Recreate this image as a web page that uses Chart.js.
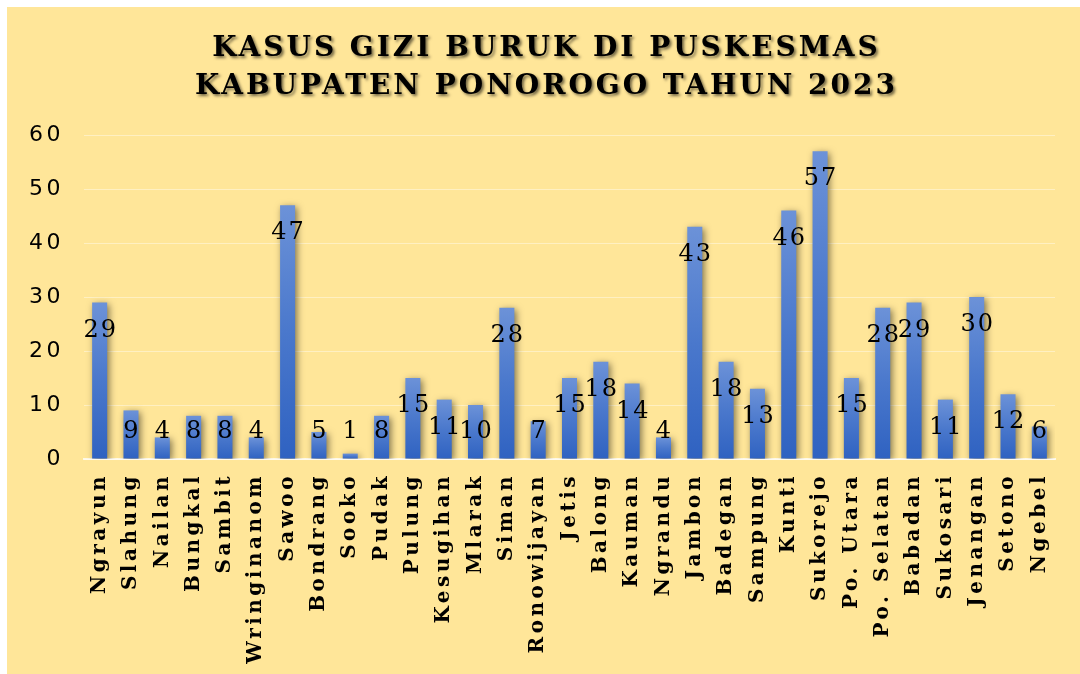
<!DOCTYPE html>
<html>
<head>
<meta charset="utf-8">
<script src="https://cdn.jsdelivr.net/npm/chart.js@4"></script>
<style>
  html, body { margin: 0; padding: 0; background: #ffffff; }
  #wrap {
    position: absolute;
    left: 7px;
    top: 7px;
    width: 1073px;
    height: 667px;
    background: #FFE699;
  }
</style>
</head>
<body>
<div id="wrap"><canvas id="giziChart"></canvas></div>
<script>
const titleLines = ['KASUS GIZI BURUK DI PUSKESMAS', 'KABUPATEN PONOROGO TAHUN 2023'];

const puskesmas = [
  'Ngrayun', 'Slahung', 'Nailan', 'Bungkal', 'Sambit', 'Wringinanom', 'Sawoo',
  'Bondrang', 'Sooko', 'Pudak', 'Pulung', 'Kesugihan', 'Mlarak', 'Siman',
  'Ronowijayan', 'Jetis', 'Balong', 'Kauman', 'Ngrandu', 'Jambon', 'Badegan',
  'Sampung', 'Kunti', 'Sukorejo', 'Po. Utara', 'Po. Selatan', 'Babadan',
  'Sukosari', 'Jenangan', 'Setono', 'Ngebel'
];

const kasus = [
  29, 9, 4, 8, 8, 4, 47,
  5, 1, 8, 15, 11, 10, 28,
  7, 15, 18, 14, 4, 43, 18,
  13, 46, 57, 15, 28, 29,
  11, 30, 12, 6
];

const yMin = 0;
const yMax = 60;
const yStep = 10;

// gradient per bar, light at the top, darker at the base
function barFill(context) {
  const chart = context.chart;
  if (!chart.chartArea) return '#4472C4';
  const y = chart.scales.y;
  const top = y.getPixelForValue(context.parsed.y);
  const bottom = y.getPixelForValue(0);
  const g = chart.ctx.createLinearGradient(0, top, 0, bottom);
  g.addColorStop(0, '#6c92d8');
  g.addColorStop(0.5, '#4a78cc');
  g.addColorStop(1, '#2f62c1');
  return g;
}

const textSpacing = {
  id: 'textSpacing',
  beforeDraw(chart) {
    chart.ctx.letterSpacing = '3.5px';
  }
};

const barShadow = {
  id: 'barShadow',
  beforeDatasetsDraw(chart) {
    const ctx = chart.ctx;
    ctx.save();
    ctx.shadowColor = 'rgba(0, 0, 0, 0.5)';
    ctx.shadowBlur = 7;
    ctx.shadowOffsetX = 2;
    ctx.shadowOffsetY = 2;
  },
  afterDatasetsDraw(chart) {
    chart.ctx.restore();
  }
};

const valueLabels = {
  id: 'valueLabels',
  afterDatasetsDraw(chart) {
    const ctx = chart.ctx;
    const meta = chart.getDatasetMeta(0);
    const floor = chart.chartArea.bottom - 27;
    ctx.save();
    ctx.letterSpacing = '2px';
    ctx.font = '24px "DejaVu Serif"';
    ctx.fillStyle = '#000000';
    ctx.textAlign = 'center';
    ctx.textBaseline = 'middle';
    meta.data.forEach((bar, i) => {
      const y = Math.min(bar.y + 28, floor);
      ctx.fillText(String(kasus[i]), bar.x + 1, y);
    });
    ctx.restore();
  }
};

const titleText = {
  id: 'titleText',
  afterDraw(chart) {
    const ctx = chart.ctx;
    ctx.save();
    ctx.letterSpacing = '3px';
    ctx.font = 'bold 28px "DejaVu Serif"';
    ctx.fillStyle = '#000000';
    ctx.textAlign = 'center';
    ctx.textBaseline = 'middle';
    ctx.shadowColor = 'rgba(0, 0, 0, 0.55)';
    ctx.shadowBlur = 3;
    ctx.shadowOffsetX = 2;
    ctx.shadowOffsetY = 2;
    titleLines.forEach((line, i) => {
      ctx.fillText(line, chart.width / 2 + 3, 42 + i * 38);
    });
    ctx.restore();
  }
};

const ctx = document.getElementById('giziChart').getContext('2d');

new Chart(ctx, {
  type: 'bar',
  data: {
    labels: puskesmas,
    datasets: [{
      label: 'Kasus',
      data: kasus,
      backgroundColor: barFill,
      borderWidth: 0,
      barPercentage: 0.48,
      categoryPercentage: 1.0
    }]
  },
  options: {
    responsive: true,
    maintainAspectRatio: false,
    animation: false,
    layout: {
      padding: { top: 128, right: 25, bottom: 0, left: 0 }
    },
    plugins: {
      legend: { display: false },
      title: { display: false },
      tooltip: { enabled: false }
    },
    scales: {
      x: {
        afterFit(scale) { scale.height = 215; },
        grid: { display: false, drawTicks: false },
        border: { display: true, color: 'rgba(255, 255, 255, 0.75)', width: 2 },
        ticks: {
          color: '#000000',
          autoSkip: false,
          maxRotation: 90,
          minRotation: 90,
          padding: 14,
          font: { family: '"DejaVu Serif"', size: 20, weight: 'bold' }
        }
      },
      y: {
        min: yMin,
        max: yMax,
        afterFit(scale) { scale.width = 77; },
        grid: { color: 'rgba(255, 255, 255, 0.4)', lineWidth: 1, drawTicks: false },
        border: { display: false },
        ticks: {
          stepSize: yStep,
          color: '#000000',
          padding: 20,
          font: { family: '"DejaVu Sans"', size: 22 }
        }
      }
    }
  },
  plugins: [textSpacing, barShadow, valueLabels, titleText]
});
</script>
</body>
</html>
